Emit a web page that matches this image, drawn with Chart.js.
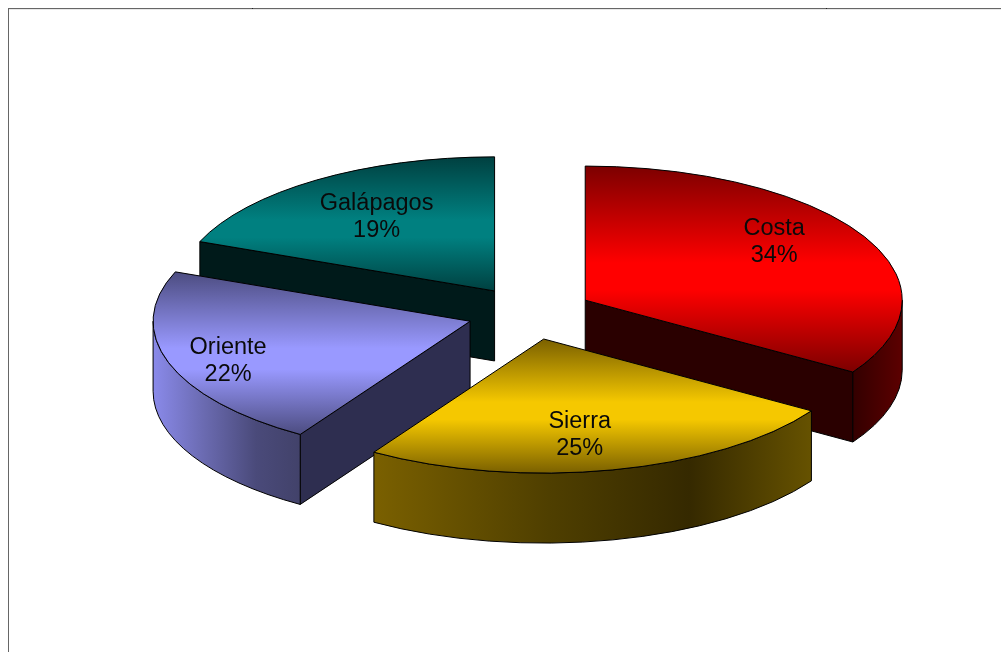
<!DOCTYPE html>
<html>
<head>
<meta charset="utf-8">
<title>Costa, Sierra, Oriente, Galápagos</title>
<script src="https://cdn.jsdelivr.net/npm/chart.js@4/dist/chart.umd.min.js"></script>
<style>
    html, body { margin: 0; padding: 0; background: #fff; overflow: hidden; }
    canvas { display: block; }
</style>
</head>
<body>
<canvas id="pie" width="1001" height="652"></canvas>
<script>
const categories = ['Costa', 'Sierra', 'Oriente', 'Galápagos'];
const shares = [34, 25, 22, 19];

// Fill colours per slice
const faceColors = ['#ff0000', '#f5c800', '#9999ff', '#008080'];
const faceDarkTop = ['#7c0000', '#7a6000', '#4c4c80', '#004040'];
const faceDarkBottom = ['#7c0000', '#7a6000', '#4c4c80', '#004040'];
const cutColors = ['#2a0000', '#000', '#2e2e50', '#001a1a'];
const wallRamps = [
    [[0, '#330000'], [1, '#5c0000']],
    [[0, '#7a6000'], [0.4, '#4f3f00'], [0.72, '#352900'], [1, '#665200']],
    [[0, '#8a8aea'], [0.35, '#6a6ab0'], [0.7, '#4a4a7a'], [1, '#42426a']],
    [[0, '#000'], [1, '#000']]
];

// Pie projection
const tilt = 0.423;
const explode = 63;
const depth = 70;
const liftY = -4;

// Label centres relative to each slice's tip
const labelShift = [[189, -58], [36, 96], [-242, 40], [-118, -74]];
const labelFont = '23.5px "Liberation Sans", Arial, sans-serif';
const lineGap = 26.5;

function tipOf(arc) {
    const mid = (arc.startAngle + arc.endAngle) / 2;
    return {
        x: arc.x + Math.cos(mid) * explode,
        y: arc.y + liftY + Math.sin(mid) * explode * tilt
    };
}

function rampGradient(ctx, x0, y0, x1, y1, stops) {
    const g = ctx.createLinearGradient(x0, y0, x1, y1);
    stops.forEach(s => g.addColorStop(s[0], s[1]));
    return g;
}

// Outer rim, only the part of it that faces the viewer
function drawRim(ctx, arc, tip, i) {
    const from = Math.max(arc.startAngle, 0);
    const to = Math.min(arc.endAngle, Math.PI);
    if (to <= from) return;
    const r = arc.outerRadius;
    const left = tip.x + Math.cos(to) * r;
    const right = tip.x + Math.cos(from) * r;
    ctx.beginPath();
    ctx.ellipse(tip.x, tip.y, r, r * tilt, 0, from, to);
    ctx.ellipse(tip.x, tip.y + depth, r, r * tilt, 0, to, from, true);
    ctx.closePath();
    ctx.fillStyle = rampGradient(ctx, left, 0, right, 0, wallRamps[i]);
    ctx.fill();
    ctx.stroke();
}

// Flat cut face running from the tip to the rim
function drawCut(ctx, arc, tip, angle, i) {
    const ex = tip.x + Math.cos(angle) * arc.outerRadius;
    const ey = tip.y + Math.sin(angle) * arc.outerRadius * tilt;
    ctx.beginPath();
    ctx.moveTo(tip.x, tip.y);
    ctx.lineTo(ex, ey);
    ctx.lineTo(ex, ey + depth);
    ctx.lineTo(tip.x, tip.y + depth);
    ctx.closePath();
    ctx.fillStyle = cutColors[i];
    ctx.fill();
    ctx.stroke();
}

function drawTop(ctx, arc, tip, i) {
    const r = arc.outerRadius;
    const a0 = arc.startAngle, a1 = arc.endAngle;
    const ys = [0, Math.sin(a0), Math.sin(a1)];
    [-Math.PI / 2, Math.PI / 2, 3 * Math.PI / 2].forEach(a => {
        if (a >= a0 && a <= a1) ys.push(Math.sin(a));
    });
    const top = arc.y + Math.min(...ys) * r;
    const bottom = arc.y + Math.max(...ys) * r;

    ctx.save();
    ctx.translate(tip.x, tip.y);
    ctx.scale(1, tilt);
    ctx.translate(-arc.x, -arc.y);
    const fill = rampGradient(ctx, 0, top, 0, bottom, [
        [0, faceDarkTop[i]],
        [0.47, faceColors[i]],
        [0.6, faceColors[i]],
        [1, faceDarkBottom[i]]
    ]);
    // the library's arc paints the face, squashed by the transform above
    const opts = arc.options;
    arc.options = Object.assign({}, opts, { backgroundColor: fill, borderWidth: 0 });
    arc.draw(ctx);
    arc.options = opts;
    ctx.restore();

    ctx.beginPath();
    ctx.moveTo(tip.x, tip.y);
    ctx.ellipse(tip.x, tip.y, r, r * tilt, 0, a0, a1);
    ctx.closePath();
    ctx.stroke();
}

const pie3d = {
    id: 'pie3d',
    beforeDraw(chart) {
        // sheet outline along the top and left
        const ctx = chart.ctx;
        ctx.save();
        ctx.fillStyle = '#e8e8e8';
        ctx.fillRect(9, 9, 992, 1);
        ctx.fillStyle = '#666';
        ctx.fillRect(8, 8, 993, 1);
        ctx.fillRect(8, 8, 1, 644);
        ctx.fillStyle = '#222';
        ctx.fillRect(252, 8, 1, 1);
        ctx.fillRect(826, 8, 1, 1);
        ctx.restore();
    },
    beforeDatasetDraw(chart) {
        const ctx = chart.ctx;
        const arcs = chart.getDatasetMeta(0).data.map((arc, i) => ({ arc, i, tip: tipOf(arc) }));
        // back slices first
        const ordered = arcs.slice().sort((a, b) => a.tip.y - b.tip.y);

        ctx.save();
        ctx.strokeStyle = '#000';
        ctx.lineWidth = 1;
        ctx.lineJoin = 'round';
        ordered.forEach(({ arc, i, tip }) => {
            if (Math.cos(arc.startAngle) < -1e-6) drawCut(ctx, arc, tip, arc.startAngle, i);
            if (Math.cos(arc.endAngle) > 1e-6) drawCut(ctx, arc, tip, arc.endAngle, i);
            drawRim(ctx, arc, tip, i);
            drawTop(ctx, arc, tip, i);
        });

        ctx.fillStyle = '#0a0a0a';
        ctx.font = labelFont;
        ctx.textAlign = 'center';
        ctx.textBaseline = 'middle';
        arcs.forEach(({ i, tip }) => {
            const x = tip.x + labelShift[i][0];
            const y = tip.y + labelShift[i][1];
            ctx.fillText(categories[i], x, y - lineGap / 2);
            ctx.fillText(shares[i] + '%', x, y + lineGap / 2);
        });
        ctx.restore();
        return false;
    }
};

new Chart(document.getElementById('pie'), {
    type: 'pie',
    data: {
        labels: categories,
        datasets: [{
            data: shares,
            backgroundColor: faceColors,
            borderWidth: 0
        }]
    },
    options: {
        responsive: false,
        animation: false,
        layout: { padding: { left: 213, right: 154, top: 0, bottom: 18 } },
        plugins: {
            legend: { display: false },
            tooltip: { enabled: false }
        }
    },
    plugins: [pie3d]
});
</script>
</body>
</html>
